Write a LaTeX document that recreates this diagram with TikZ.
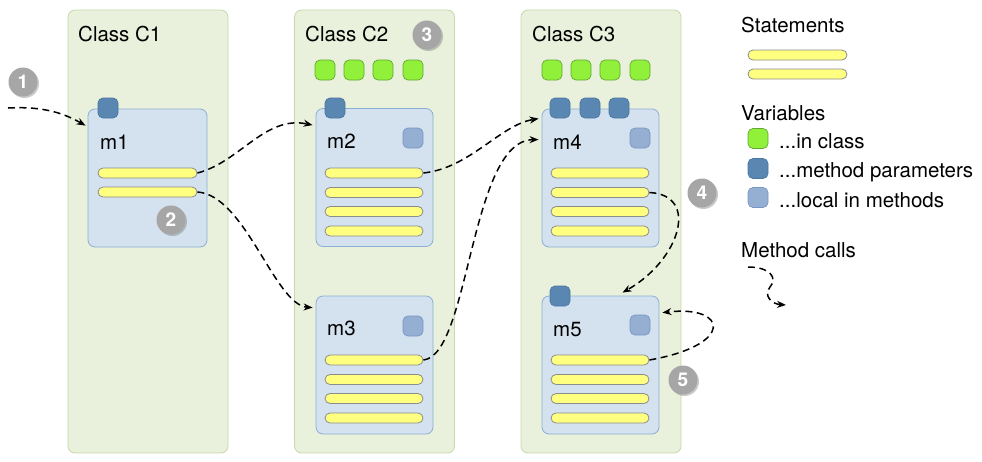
\documentclass[tikz,border=0pt]{standalone}
\usepackage{fontspec}
\setmainfont{TeX Gyre Heros}
\usetikzlibrary{arrows.meta,calc,shadows}
\definecolor{colfill}{HTML}{E9F0DB}
\definecolor{coldraw}{HTML}{C6D9A9}
\definecolor{mfill}{HTML}{D3E2EE}
\definecolor{mdraw}{HTML}{8CAFD4}
\definecolor{pfill}{HTML}{5A86B2}
\definecolor{pdraw}{HTML}{4A76A3}
\definecolor{lfill}{HTML}{95AFD2}
\definecolor{ldraw}{HTML}{7896C3}
\definecolor{gfill}{HTML}{90F03A}
\definecolor{gdraw}{HTML}{62A832}
\definecolor{sfill}{HTML}{FFFF80}
\definecolor{sdraw}{HTML}{8C8C8C}
\definecolor{badge}{HTML}{A6A6A6}
\tikzset{
  classcol/.style={draw=coldraw, fill=colfill, line width=0.8pt, rounded corners=7pt, minimum width=160pt, minimum height=443pt, inner sep=0pt},
  methodbox/.style={draw=mdraw, fill=mfill, line width=0.8pt, rounded corners=7pt, minimum width=117pt, minimum height=138pt, inner sep=0pt},
  varsq/.style={rounded corners=5pt, minimum width=20pt, minimum height=20pt, inner sep=0pt, line width=0.7pt},
  paramvar/.style={varsq, draw=pdraw, fill=pfill},
  localvar/.style={varsq, draw=ldraw, fill=lfill},
  classvar/.style={varsq, draw=gdraw, fill=gfill},
  stmtbar/.style={draw=sdraw, fill=sfill, line width=0.8pt, rounded corners=5pt, minimum height=10pt, minimum width=99pt, inner sep=0pt},
  lbl/.style={font=\fontsize{20.5}{24}\selectfont, inner sep=0pt, anchor=base west},
  badgenode/.style={circle, fill=badge, minimum size=29pt, inner sep=0pt, text=white, font=\fontsize{19}{22}\selectfont\bfseries, drop shadow={opacity=0.35, shadow xshift=1.5pt, shadow yshift=-1.5pt, fill=black!60}},
  callarrow/.style={line width=1.5pt, dash pattern=on 7pt off 4.5pt, -{Stealth[length=9pt,width=7pt]}}
}
\begin{document}
\begin{tikzpicture}[x=1pt,y=-1pt]
\useasboundingbox (0,0) rectangle (982,461);
% class columns
\node[classcol] (c1) at (148,231.5) {};
\node[classcol] (c2) at (374.5,231.5) {};
\node[classcol] (c3) at (601,231.5) {};
\node[lbl] (c1t) at (78,41) {Class C1};
\node[lbl] (c2t) at (305,41) {Class C2};
\node[lbl] (c3t) at (532,41) {Class C3};
% class variables
\foreach \x [count=\i] in {325,354,383,413} \node[classvar] (g2\i) at (\x,70) {};
\foreach \x [count=\i] in {552,581,610,640} \node[classvar] (g3\i) at (\x,70) {};
% methods
\node[methodbox, minimum width=119pt] (m1) at (147.5,178) {};
\node[methodbox] (m2) at (374.5,177.5) {};
\node[methodbox] (m3) at (374.5,365) {};
\node[methodbox] (m4) at (600.5,178) {};
\node[methodbox] (m5) at (600.5,365) {};
\node[lbl] (m1t) at (100,149) {m1};
\node[lbl] (m2t) at (327,148) {m2};
\node[lbl] (m3t) at (327,335) {m3};
\node[lbl] (m4t) at (553,149) {m4};
\node[lbl] (m5t) at (553,336) {m5};
% parameters
\node[paramvar] (p1) at (108,108) {};
\node[paramvar] (p2) at (335,108) {};
\node[paramvar] (p41) at (560,108) {};
\node[paramvar] (p42) at (590,108) {};
\node[paramvar] (p43) at (619,108) {};
\node[paramvar] (p5) at (560,296) {};
% locals
\node[localvar] (l2) at (413,138) {};
\node[localvar] (l3) at (413,326) {};
\node[localvar] (l4) at (640,138) {};
\node[localvar] (l5) at (640,325) {};
% statements
\node[stmtbar] (s11) at (147.5,173) {};
\node[stmtbar] (s12) at (147.5,192) {};
\foreach \y [count=\i] in {173,192.5,211.5,231} {
  \node[stmtbar, minimum width=98pt] (s2\i) at (374,\y) {};
  \node[stmtbar, minimum width=98pt] (s4\i) at (600,\y) {};
}
\foreach \y [count=\i] in {360,379.5,398.5,418} {
  \node[stmtbar, minimum width=98pt] (s3\i) at (374,\y) {};
  \node[stmtbar, minimum width=98pt] (s5\i) at (600,\y) {};
}
% badges
\node[badgenode] (b1) at (23,82) {1};
\node[badgenode] (b2) at (171,220) {2};
\node[badgenode] (b3) at (427,35) {3};
\node[badgenode] (b4) at (702,193) {4};
\node[badgenode] (b5) at (683,380) {5};
% legend
\node[lbl] (lst) at (741,32) {Statements};
\node[stmtbar] (ls1) at (797.5,55) {};
\node[stmtbar] (ls2) at (797.5,74) {};
\node[lbl] (lvar) at (741,120) {Variables};
\node[classvar] (lg) at (758,138.5) {};
\node[paramvar] (lp) at (758,168.5) {};
\node[localvar] (ll) at (758,197.5) {};
\node[lbl] (lgt) at (779,148) {...in class};
\node[lbl] (lpt) at (779,177) {...method parameters};
\node[lbl] (llt) at (779,207) {...local in methods};
\node[lbl] (lmc) at (741,257) {Method calls};
% connectors
\coordinate (in1) at (8,108);
\draw[callarrow] (in1) .. controls (45,106) and (65,114) .. ($(m1.north west)+(-2,17)$);
\draw[callarrow] (s11.east) .. controls (240,162) and (265,115) .. ($(m2.north west)+(-3,17)$);
\draw[callarrow] (s12.east) .. controls (245,195) and (275,305) .. ($(m3.north west)+(-3,12)$);
\draw[callarrow] (s21.east) .. controls (470,168) and (500,125) .. ($(m4.north west)+(-3,10)$);
\draw[callarrow] (s31.east) .. controls (470,355) and (470,140) .. ($(m4.north west)+(-3,31)$);
\draw[callarrow] (s42.east) .. controls (700,195) and (680,260) .. ($(m5.north)+(22,-3)$);
\draw[callarrow] (s51.east) .. controls (735,345) and (728,305) .. ($(m5.north east)+(3,17)$);
\coordinate (lcs) at (748,267);
\coordinate (lce) at (786,305);
\draw[callarrow] (lcs) .. controls (770,267) and (778,278) .. (770,287) .. controls (763,296) and (772,304) .. (lce);
\end{tikzpicture}
\end{document}
